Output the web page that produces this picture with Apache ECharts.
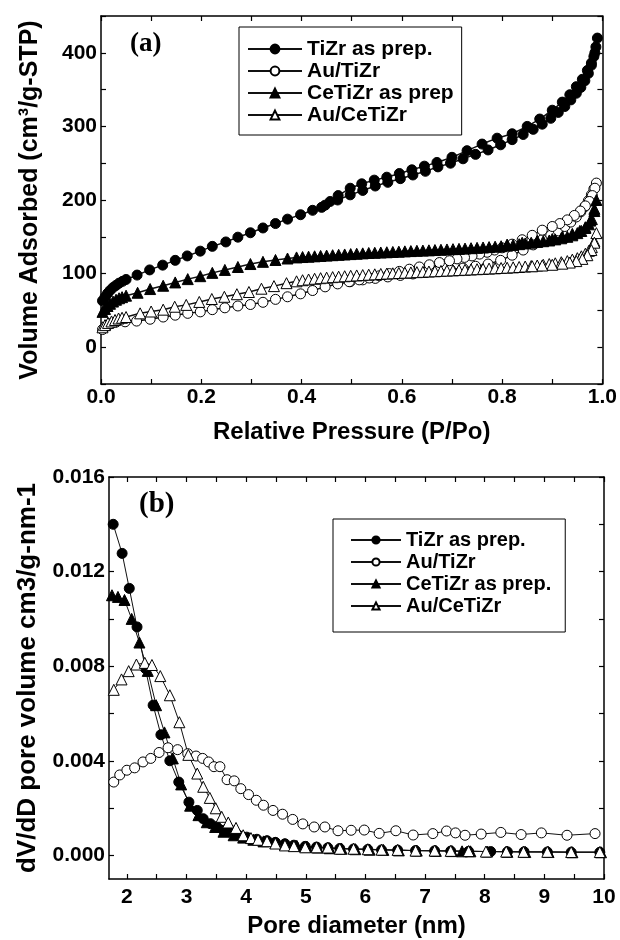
<!DOCTYPE html>
<html>
<head>
<meta charset="utf-8">
<script src="https://cdn.jsdelivr.net/npm/echarts@6/dist/echarts.min.js"></script>
<style>
  html, body { margin: 0; padding: 0; background: #fff; }
  #chart { width: 620px; height: 940px; }
</style>
</head>
<body>
<div id="chart"></div>
<script>
// ---- panel (a): N2 isotherms, P/Po vs volume adsorbed (adsorption then desorption) ----
const tizrP = [0.003,0.008,0.013,0.018,0.024,0.030,0.036,0.043,0.050,0.072,0.097,0.123,0.148,0.172,0.198,0.222,0.249,0.273,0.298,0.323,0.348,0.372,0.398,0.422,0.447,0.472,0.497,0.522,0.547,0.572,0.597,0.622,0.647,0.672,0.697,0.722,0.747,0.772,0.797,0.820,0.842,0.862,0.880,0.897,0.912,0.925,0.937,0.948,0.957,0.965,0.972,0.978,0.983,0.987,0.990,0.985,0.978,0.970,0.960,0.948,0.935,0.920,0.900,0.875,0.850,0.820,0.790,0.760,0.730,0.700,0.670,0.645,0.620,0.595,0.570,0.545,0.520,0.497,0.473,0.457,0.440]
const tizrV = [63,68,73,77,81,84,87,89.5,92,98,105,111.5,118,124,130.5,137,143,149.5,155.5,162,168,174,180,186,193,200,207,213,219,224,229,234,239,245,250,256,262,268,275,282,289,296,303,311,319,327,336,345,353,362,372,383,395,408,420,400,386,376,364,354,343,333,322,310,300,290,284,276,267,258,251,246,241,236,231,227,222,216,206,198,190]

const auTizrP = [0.003,0.008,0.014,0.021,0.030,0.048,0.071,0.098,0.124,0.148,0.173,0.198,0.222,0.247,0.273,0.298,0.323,0.348,0.372,0.398,0.422,0.447,0.472,0.497,0.522,0.547,0.572,0.597,0.622,0.647,0.672,0.697,0.722,0.747,0.772,0.797,0.820,0.842,0.862,0.880,0.897,0.912,0.925,0.937,0.948,0.957,0.965,0.972,0.978,0.983,0.988,0.985,0.980,0.974,0.966,0.956,0.944,0.930,0.915,0.900,0.880,0.860,0.840,0.820,0.800,0.785,0.770,0.755,0.740,0.725,0.710,0.695,0.675,0.655,0.635,0.615,0.595,0.575,0.555,0.535,0.515,0.495]
const auTizrV = [24,27,30,32.5,34,34.5,35.5,38,41,43.5,46,48,51,53.5,56,58,61,65,68.5,72.5,77,82,86,89,91.5,93.5,95.5,97.5,99.5,101.5,103.5,105.5,107.5,110,113,118,125,132,139,146,152,158,164,170,177,184,191,199,207,215,223,216,206,198,192,185,179,173,168,164,159,152,146,140,135,132,129,126.5,124,122,120,117.5,115,112,109,106,103,100,97,94,91.5,89]

const ceTizrP = [0.003,0.008,0.013,0.018,0.024,0.030,0.036,0.042,0.050,0.073,0.098,0.124,0.148,0.173,0.198,0.222,0.247,0.273,0.298,0.323,0.348,0.372,0.390,0.402,0.414,0.426,0.438,0.450,0.462,0.474,0.486,0.498,0.510,0.522,0.534,0.546,0.558,0.570,0.582,0.594,0.606,0.618,0.630,0.642,0.654,0.666,0.678,0.690,0.702,0.714,0.726,0.738,0.750,0.762,0.774,0.786,0.798,0.810,0.822,0.834,0.846,0.858,0.870,0.882,0.894,0.906,0.918,0.930,0.940,0.950,0.958,0.966,0.973,0.979,0.984,0.988,0.984,0.976,0.966,0.955,0.940,0.920,0.900,0.870,0.840,0.810]
const ceTizrV = [48,52,56,59,62,64.5,66.5,68,70,74,79,83.5,88,92.5,96.5,101,105,109,113,116,118.5,120.5,122,122.5,123,123.5,124,124.5,125,125.5,126,126.5,127,127.5,128,128.3,128.7,129,129.4,129.8,130.2,130.6,131,131.3,131.6,132,132.4,132.8,133.2,133.6,134,134.5,135,135.5,136,136.6,137.2,138,139,140,141,142,143,144,145,146.5,148,150,152,155,158,162,167,174,185,200,188,172,163,158,154,150,147,144.5,142,139.5]

const auCeTizrP = [0.003,0.008,0.014,0.021,0.028,0.035,0.042,0.050,0.078,0.100,0.124,0.147,0.170,0.196,0.221,0.246,0.271,0.295,0.320,0.345,0.370,0.390,0.402,0.414,0.426,0.438,0.450,0.462,0.474,0.486,0.498,0.510,0.522,0.534,0.546,0.558,0.570,0.582,0.594,0.606,0.618,0.630,0.642,0.654,0.666,0.678,0.690,0.702,0.714,0.726,0.738,0.750,0.762,0.774,0.786,0.798,0.810,0.822,0.834,0.846,0.858,0.870,0.882,0.894,0.906,0.918,0.930,0.940,0.950,0.958,0.966,0.973,0.979,0.984,0.988,0.984,0.978,0.970,0.960,0.948,0.935,0.920,0.900,0.880,0.860]
const auCeTizrV = [27,30,33,35,37,39,40,41,46,48.5,51,55,57.5,61.5,65.5,68.5,72,75,79.5,83,87,89.5,91,92,93,93.8,94.5,95.2,95.8,96.4,97,97.5,98,98.5,99,99.5,100,100.4,100.8,101.2,101.6,102,102.4,102.8,103.2,103.6,104,104.4,104.8,105.2,105.6,106,106.4,106.8,107.2,107.6,108,108.5,109,109.6,110.2,111,112,113,114,115.5,117,119,121,123.5,127,131,136,144,155,142,132,125,120,117,115,113.5,112,111,110]

// ---- panel (b): pore size distribution, diameter (nm) vs dV/dD ----
const tizrD = [1.77,1.92,2.04,2.17,2.31,2.44,2.57,2.72,2.87,3.04,3.18,3.28,3.40,3.51,3.62,3.73,3.87,4.01,4.18,4.35,4.49,4.65,4.80,4.99,5.18,5.37,5.57,5.80,6.04,6.27,6.54,6.84,7.16,7.43,7.73,8.10,8.38,8.66,9.05,9.45,9.93]
const tizrDv = [0.0140,0.01277,0.01129,0.00966,0.0079,0.00635,0.0051,0.0040,0.0031,0.00225,0.0019,0.00155,0.00134,0.0012,0.00106,0.00099,0.00085,0.00077,0.00068,0.00062,0.00055,0.00049,0.00043,0.00038,0.00035,0.00032,0.00029,0.00027,0.00025,0.00023,0.00022,0.0002,0.00019,0.00018,0.00017,0.00016,0.00015,0.00015,0.00014,0.00013,0.00013]

const auTizrD = [1.78,1.88,2.00,2.13,2.27,2.40,2.54,2.69,2.85,3.02,3.16,3.27,3.37,3.46,3.56,3.68,3.80,3.91,4.04,4.17,4.29,4.45,4.61,4.78,4.95,5.14,5.32,5.54,5.76,5.98,6.23,6.51,6.80,7.13,7.36,7.51,7.67,7.94,8.27,8.61,8.95,9.38,9.85]
const auTizrDv = [0.0031,0.0034,0.0036,0.0037,0.00395,0.0041,0.00435,0.00455,0.00447,0.0043,0.0042,0.0041,0.00395,0.00375,0.00375,0.0032,0.00315,0.00282,0.00257,0.00233,0.00212,0.0019,0.00174,0.00152,0.00133,0.0012,0.0012,0.00104,0.00106,0.00107,0.00093,0.00104,0.00086,0.00092,0.00103,0.00095,0.00085,0.0009,0.00097,0.00088,0.00095,0.00085,0.00092]

const ceTizrD = [1.75,1.85,1.96,2.08,2.21,2.35,2.49,2.63,2.77,2.91,3.06,3.20,3.34,3.48,3.62,3.79,3.95,4.12,4.29,4.49,4.65,4.85,5.02,5.20,5.40,5.60,5.83,6.07,6.30,6.56,6.86,7.18,7.45,7.62,7.76,8.04,8.38,8.68,9.07,9.47,9.95]
const ceTizrDv = [0.0110,0.01093,0.0108,0.0100,0.0090,0.0078,0.00635,0.0052,0.0041,0.0030,0.0021,0.0017,0.0014,0.0012,0.0010,0.00085,0.00075,0.00066,0.00059,0.00053,0.00047,0.0004,0.00036,0.00033,0.0003,0.00028,0.00026,0.00024,0.00023,0.00021,0.0002,0.00019,0.00018,0.00017,0.00017,0.00016,0.00015,0.00014,0.00014,0.00013,0.00013]

const auCeTizrD = [1.78,1.91,2.03,2.16,2.30,2.42,2.56,2.72,2.88,3.03,3.18,3.28,3.39,3.49,3.59,3.70,3.83,3.95,4.08,4.20,4.35,4.49,4.65,4.80,4.99,5.18,5.37,5.57,5.80,6.04,6.27,6.54,6.84,7.16,7.43,7.73,8.02,8.36,8.65,9.05,9.45,9.93]
const auCeTizrDv = [0.0070,0.00744,0.00779,0.00807,0.00814,0.00805,0.00758,0.00677,0.00563,0.00425,0.00346,0.0029,0.00243,0.00199,0.00163,0.00139,0.00116,0.00085,0.00073,0.00066,0.0006,0.0005,0.00042,0.00039,0.00034,0.00034,0.00033,0.00028,0.00028,0.00026,0.00024,0.00023,0.0002,0.0002,0.00019,0.00018,0.00016,0.00016,0.00015,0.00015,0.00014,0.00014]

// tick positions / labels
const aTicksX = [0,0.1,0.2,0.3,0.4,0.5,0.6,0.7,0.8,0.9,1.0]
const aLabelsX = [0,0.2,0.4,0.6,0.8,1.0]
const aTicksY = [-50,0,50,100,150,200,250,300,350,400,450]
const aLabelsY = [0,100,200,300,400]
const bTicksX = [2,2.5,3,3.5,4,4.5,5,5.5,6,6.5,7,7.5,8,8.5,9,9.5,10]
const bLabelsX = [2,3,4,5,6,7,8,9,10]
const bTicksY = [0,0.002,0.004,0.006,0.008,0.010,0.012,0.014,0.016]
const bLabelsY = [0,0.004,0.008,0.012,0.016]

const legendA = ['TiZr as prep.', 'Au/TiZr', 'CeTiZr as prep', 'Au/CeTiZr']
const legendB = ['TiZr as prep.', 'Au/TiZr', 'CeTiZr as prep.', 'Au/CeTiZr']

const FONT = 'Liberation Sans, Arial, sans-serif'
const zip = (xs, ys) => xs.map((x, i) => [x, ys[i]])

function makeSeries(name, xs, ys, symbol, filled, axis, size, lw) {
  return {
    name,
    type: 'line',
    xAxisIndex: axis,
    yAxisIndex: axis,
    data: zip(xs, ys),
    symbol,
    symbolSize: size,
    showAllSymbol: true,
    lineStyle: { color: '#111', width: lw },
    itemStyle: {
      color: filled ? '#000' : '#fff',
      borderColor: '#000',
      borderWidth: 1
    },
    emphasis: { disabled: true }
  }
}

function frameAxis(grid, pos, min, max, ticks, labels, fmt, label) {
  return {
    type: 'value',
    gridIndex: grid,
    position: pos,
    min,
    max,
    splitLine: { show: false },
    axisLine: { show: true, onZero: false, lineStyle: { color: '#000', width: 1.5 } },
    axisTick: { show: true, inside: true, length: 5, customValues: ticks, lineStyle: { color: '#000', width: 1.2 } },
    axisLabel: {
      show: label,
      customValues: labels,
      formatter: fmt,
      color: '#000',
      fontFamily: FONT,
      fontWeight: 'bold',
      fontSize: 21
    }
  }
}

const chart = echarts.init(document.getElementById('chart'), null, { renderer: 'canvas' })

const titleStyle = size => ({ color: '#000', fontFamily: FONT, fontWeight: 'bold', fontSize: size })

const xa = frameAxis(0, 'bottom', 0, 1, aTicksX, aLabelsX, v => v.toFixed(1), true)
xa.axisLabel.margin = 3
xa.name = 'Relative Pressure (P/Po)'
xa.nameLocation = 'middle'
xa.nameGap = 36
xa.nameTextStyle = titleStyle(24)

const ya = frameAxis(0, 'left', -50, 450, aTicksY, aLabelsY, v => String(v), true)
ya.axisLabel.margin = 4
ya.name = 'Volume Adsorbed (cm³/g-STP)'
ya.nameLocation = 'middle'
ya.nameGap = 58
ya.nameTextStyle = titleStyle(25)

const xb = frameAxis(1, 'bottom', 1.7, 10, bTicksX, bLabelsX, v => String(v), true)
xb.axisLabel.margin = 8
xb.name = 'Pore diameter (nm)'
xb.nameLocation = 'middle'
xb.nameGap = 35
xb.nameTextStyle = titleStyle(24)

const yb = frameAxis(1, 'left', -0.001, 0.016, bTicksY, bLabelsY, v => v.toFixed(3), true)
yb.axisLabel.margin = 4
yb.name = 'dV/dD pore volume cm3/g-nm-1'
yb.nameLocation = 'middle'
yb.nameGap = 68
yb.nameTextStyle = titleStyle(26)

const legendText = { color: '#000', fontFamily: FONT, fontWeight: 'bold', fontSize: 21, lineHeight: 22 }

chart.setOption({
  animation: false,
  backgroundColor: '#fff',
  grid: [
    { left: 101, right: 14, top: 16, height: 368 },
    { left: 109, right: 16, top: 477, height: 402 }
  ],
  xAxis: [
    xa,
    frameAxis(0, 'top', 0, 1, aTicksX, [], null, false),
    xb,
    frameAxis(1, 'top', 1.7, 10, bTicksX, [], null, false)
  ],
  yAxis: [
    ya,
    frameAxis(0, 'right', -50, 450, aTicksY, [], null, false),
    yb,
    frameAxis(1, 'right', -0.001, 0.016, bTicksY, [], null, false)
  ],
  legend: [
    {
      orient: 'vertical',
      left: 239,
      top: 27,
      padding: [11, 8, 9, 8],
      itemWidth: 54,
      itemHeight: 11,
      itemGap: 0,
      borderColor: '#000',
      borderWidth: 1,
      selectedMode: false,
      textStyle: legendText,
      data: legendA
    },
    {
      orient: 'vertical',
      left: 333,
      top: 519,
      padding: [10, 14, 15, 17],
      itemWidth: 50,
      itemHeight: 9,
      itemGap: 0,
      borderColor: '#000',
      borderWidth: 1,
      selectedMode: false,
      textStyle: Object.assign({}, legendText, { fontSize: 20 }),
      data: legendB
    }
  ],
  graphic: [
    { type: 'text', left: 130, top: 31, style: { text: '(a)', font: 'bold 27px "Liberation Serif", "Times New Roman", serif', fill: '#000' } },
    { type: 'text', left: 139, top: 490, style: { text: '(b)', font: 'bold 29px "Liberation Serif", "Times New Roman", serif', fill: '#000' } }
  ],
  series: [
    makeSeries('TiZr as prep.', tizrP, tizrV, 'circle', true, 0, 10, 1.5),
    makeSeries('Au/TiZr', auTizrP, auTizrV, 'circle', false, 0, 10, 1.5),
    makeSeries('CeTiZr as prep', ceTizrP, ceTizrV, 'triangle', true, 0, 11, 1.5),
    makeSeries('Au/CeTiZr', auCeTizrP, auCeTizrV, 'triangle', false, 0, 11, 1.5),
    makeSeries('TiZr as prep.', tizrD, tizrDv, 'circle', true, 2, 10, 1),
    makeSeries('CeTiZr as prep.', ceTizrD, ceTizrDv, 'triangle', true, 2, 11, 1),
    makeSeries('Au/TiZr', auTizrD, auTizrDv, 'circle', false, 2, 10, 1),
    makeSeries('Au/CeTiZr', auCeTizrD, auCeTizrDv, 'triangle', false, 2, 11, 1)
  ]
})
</script>
</body>
</html>
